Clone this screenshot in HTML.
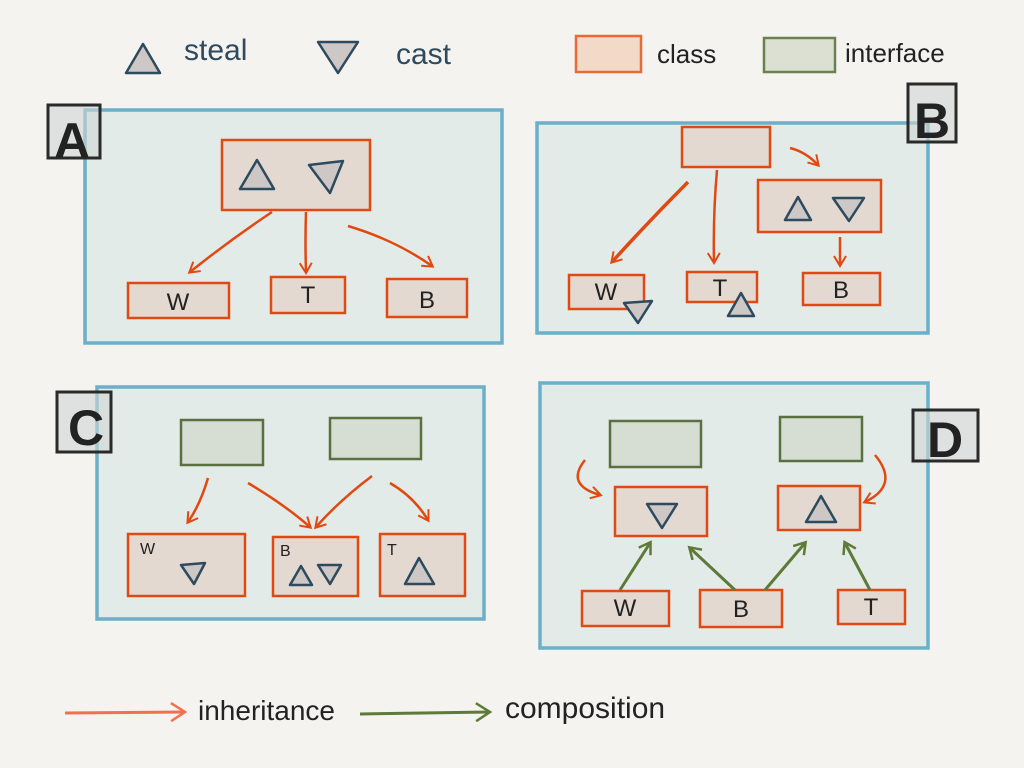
<!DOCTYPE html>
<html><head><style>html,body{margin:0;padding:0;background:#f4f3ef}svg{display:block}</style></head>
<body>
<svg width="1024" height="768" viewBox="0 0 1024 768" xmlns="http://www.w3.org/2000/svg" font-family="Liberation Sans, sans-serif">
<defs>
<marker id="ao" markerWidth="14" markerHeight="14" refX="10" refY="7" orient="auto" markerUnits="userSpaceOnUse"><path d="M1,1 L11,7 L1,13" fill="none" stroke="#e04a12" stroke-width="2"/></marker>
<marker id="ag" markerWidth="16" markerHeight="16" refX="11" refY="8" orient="auto" markerUnits="userSpaceOnUse"><path d="M1,1 L12,8 L1,15" fill="none" stroke="#5d7a38" stroke-width="2.5"/></marker>
<marker id="al" markerWidth="18" markerHeight="20" refX="14" refY="10" orient="auto" markerUnits="userSpaceOnUse"><path d="M1,1 L15,10 L1,19" fill="none" stroke="#f07050" stroke-width="2.5"/></marker>
<marker id="alg" markerWidth="18" markerHeight="20" refX="14" refY="10" orient="auto" markerUnits="userSpaceOnUse"><path d="M1,1 L15,10 L1,19" fill="none" stroke="#5d7a38" stroke-width="2.5"/></marker>
</defs>
<rect width="1024" height="768" fill="#f4f3ef"/>
<g fill="#cdc8c5" stroke="#2e4a5e" stroke-width="2.5" stroke-linejoin="round">
<!-- legend -->
<polygon points="126,73 160,73 143,44"/>
<polygon points="318,42 358,42 338,73"/>
</g>
<g font-size="30" fill="#2e4a5e"><text x="184" y="60">steal</text><text x="396" y="64">cast</text></g>
<rect x="576" y="36" width="65" height="36" fill="#f2d9c8" stroke="#ea6a36" stroke-width="2.5"/>
<text x="657" y="63" font-size="26" fill="#222">class</text>
<rect x="764" y="38" width="71" height="34" fill="#dce0d2" stroke="#6a8050" stroke-width="2.5"/>
<text x="845" y="62" font-size="26" fill="#222">interface</text>

<g fill="#e3ebe8" stroke="#6ab0c8" stroke-width="3.5">
<rect x="85" y="110" width="417" height="233"/>
<rect x="537" y="123" width="391" height="210"/>
<rect x="97" y="387" width="387" height="232"/>
<rect x="540" y="383" width="388" height="265"/>
</g>
<!-- labels -->
<g fill="#cfd6d4" fill-opacity="0.6" stroke="#2a2a2a" stroke-width="3">
<rect x="48" y="105" width="52" height="53"/>
<rect x="908" y="84" width="48" height="58"/>
<rect x="57" y="392" width="54" height="60"/>
<rect x="913" y="410" width="65" height="51"/>
</g>
<g font-size="50" font-weight="bold" fill="#222" text-anchor="middle">
<text x="72" y="158">A</text><text x="932" y="138">B</text><text x="86" y="445">C</text><text x="945" y="457">D</text>
</g>

<!-- class boxes -->
<g fill="#e3d9d0" stroke="#e04a12" stroke-width="2.5">
<rect x="222" y="140" width="148" height="70"/>
<rect x="128" y="283" width="101" height="35"/>
<rect x="271" y="277" width="74" height="36"/>
<rect x="387" y="279" width="80" height="38"/>
<rect x="682" y="127" width="88" height="40"/>
<rect x="758" y="180" width="123" height="52"/>
<rect x="569" y="275" width="75" height="34"/>
<rect x="687" y="272" width="70" height="30"/>
<rect x="803" y="273" width="77" height="32"/>
<rect x="128" y="534" width="117" height="62"/>
<rect x="273" y="537" width="85" height="59"/>
<rect x="380" y="534" width="85" height="62"/>
<rect x="615" y="487" width="92" height="49"/>
<rect x="778" y="486" width="82" height="44"/>
<rect x="582" y="591" width="87" height="35"/>
<rect x="700" y="590" width="82" height="37"/>
<rect x="838" y="590" width="67" height="34"/>
</g>
<g fill="#d6ddd2" stroke="#5a7040" stroke-width="2.5">
<rect x="181" y="420" width="82" height="45"/>
<rect x="330" y="418" width="91" height="41"/>
<rect x="610" y="421" width="91" height="46"/>
<rect x="780" y="417" width="82" height="44"/>
</g>
<g font-size="24" fill="#222" text-anchor="middle">
<text x="178" y="310">W</text><text x="308" y="303">T</text><text x="427" y="308">B</text>
<text x="606" y="300">W</text><text x="720" y="296">T</text><text x="841" y="298">B</text>
<text x="625" y="616">W</text><text x="741" y="617">B</text><text x="871" y="615">T</text>
</g>
<g font-size="16" fill="#222"><text x="140" y="554">W</text><text x="280" y="556">B</text><text x="387" y="555">T</text></g>

<!-- triangles -->
<g fill="#cdc8c5" stroke="#2e4a5e" stroke-width="2.5" stroke-linejoin="round">
<polygon points="240,189 274,189 257,160"/>
<polygon points="309,165 343,161 330,193"/>
<polygon points="785,220 811,220 798,197"/>
<polygon points="833,198 864,198 849,221"/>
<polygon points="624,303 652,301 638,323"/>
<polygon points="728,316 754,316 741,293"/>
<polygon points="181,565 205,563 194,584"/>
<polygon points="290,585 312,585 301,566"/>
<polygon points="318,565 341,565 330,584"/>
<polygon points="405,584 434,584 419,558"/>
<polygon points="647,504 677,504 662,528"/>
<polygon points="806,522 836,522 821,496"/>
</g>

<!-- orange arrows -->
<g fill="none" stroke="#e04a12" stroke-width="2.5" marker-end="url(#ao)">
<path d="M272,212 Q230,240 190,272"/>
<path d="M306,212 Q305,240 306,272"/>
<path d="M348,226 Q395,240 432,266"/>
<path d="M688,182 Q650,220 612,262" stroke-width="3.5"/>
<path d="M717,170 Q713,215 714,262"/>
<path d="M790,148 Q806,152 818,165"/>
<path d="M840,237 L840,265"/>
<path d="M208,478 Q200,505 188,522"/>
<path d="M248,483 Q285,505 310,527"/>
<path d="M372,476 Q340,500 316,527"/>
<path d="M390,483 Q414,497 428,520"/>
<path d="M585,460 Q565,485 600,495"/>
<path d="M875,455 Q900,485 865,502"/>
</g>
<!-- green arrows -->
<g fill="none" stroke="#5d7a38" stroke-width="3" marker-end="url(#ag)">
<path d="M620,590 L650,543"/>
<path d="M735,590 L690,548"/>
<path d="M765,590 L805,543"/>
<path d="M870,590 L845,543"/>
</g>

<!-- bottom legend -->
<path d="M65,713 L184,712" stroke="#f07050" stroke-width="3" fill="none" marker-end="url(#al)"/>
<text x="198" y="720" font-size="28" fill="#222">inheritance</text>
<path d="M360,714 L489,712" stroke="#5d7a38" stroke-width="3" fill="none" marker-end="url(#alg)"/>
<text x="505" y="718" font-size="30" fill="#222">composition</text>
</svg>
</body></html>
